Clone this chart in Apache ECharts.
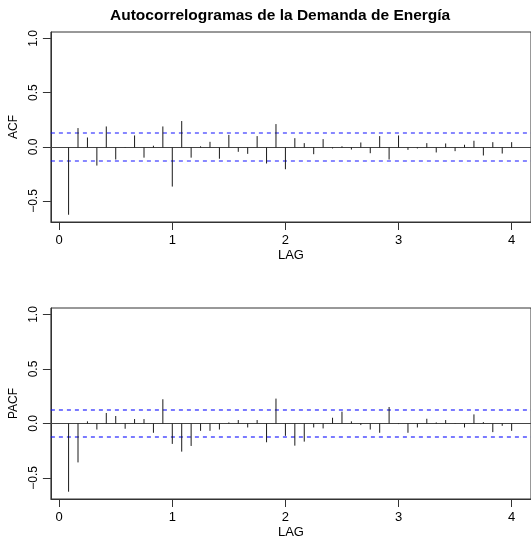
<!DOCTYPE html>
<html>
<head>
<meta charset="utf-8">
<script src="https://cdn.jsdelivr.net/npm/echarts@6/dist/echarts.min.js"></script>
<style>
html,body{margin:0;padding:0;background:#fff;}
#chart{width:531px;height:540px;}
</style>
</head>
<body>
<div id="chart"></div>
<script>
// ---- data ----
const chartTitle = 'Autocorrelogramas de la Demanda de Energía';
const lags = Array.from({length: 48}, (_, i) => (i + 1) / 12);
const acfValues = [-0.627, 0.173, 0.086, -0.173, 0.188, -0.117, -0.010, 0.105, -0.100, 0.010, 0.188, -0.367,
  0.238, -0.100, 0.005, 0.046, -0.110, 0.110, -0.046, -0.065, 0.099, -0.154, 0.210, -0.207,
  0.080, 0.034, -0.068, 0.071, -0.015, 0.005, -0.025, 0.040, -0.059, 0.099, -0.117, 0.105,
  -0.028, -0.015, 0.034, -0.052, 0.031, -0.040, 0.019, 0.056, -0.080, 0.043, -0.062, 0.043];
const pacfValues = [-0.627, -0.358, 0.019, -0.056, 0.096, 0.068, -0.049, 0.040, 0.040, -0.086, 0.222, -0.188,
  -0.259, -0.207, -0.068, -0.068, -0.056, 0.009, 0.031, -0.037, 0.031, -0.173, 0.228, -0.114,
  -0.204, -0.167, -0.037, -0.046, 0.052, 0.108, 0.019, -0.015, -0.056, -0.086, 0.151, -0.006,
  -0.086, -0.037, 0.043, 0.009, 0.031, 0.003, -0.037, 0.083, 0.012, -0.080, -0.022, -0.068];
const confLimit = 0.127;
const refLevels = [0, confLimit, -confLimit];
const xTicks = [0, 1, 2, 3, 4];
const yTicks = [-0.5, 0, 0.5, 1];
const yTickLabels = ['\u22120.5', '0.0', '0.5', '1.0'];
const xRange = [-0.073, 4.171];
const yRange = [-0.694, 1.06];
const yNames = ['ACF', 'PACF'];
const xName = 'LAG';

// ---- chart ----
const FONT = '"Liberation Sans", Arial, Helvetica, sans-serif';
const chart = echarts.init(document.getElementById('chart'), null, {renderer: 'canvas'});

function makeX(idx) {
  return {
    type: 'value', gridIndex: idx, min: xRange[0], max: xRange[1],
    name: xName, nameLocation: 'middle', nameGap: 27,
    nameTextStyle: {fontFamily: FONT, fontSize: 13, color: '#000'},
    axisLine: {show: true, onZero: false, lineStyle: {color: '#333', width: 1}},
    axisTick: {show: true, length: 8, customValues: xTicks, lineStyle: {color: '#333'}},
    axisLabel: {show: true, customValues: xTicks, margin: 12, fontFamily: FONT, fontSize: 13, color: '#000',
      formatter: v => String(Math.round(v))},
    splitLine: {show: false}
  };
}
function makeY(idx) {
  return {
    type: 'value', gridIndex: idx, min: yRange[0], max: yRange[1],
    name: yNames[idx], nameLocation: 'middle', nameGap: 27, nameRotate: 90,
    nameTextStyle: {fontFamily: FONT, fontSize: 12, color: '#000'},
    axisLine: {show: true, onZero: false, lineStyle: {color: '#333', width: 1}},
    axisTick: {show: true, length: 8, customValues: yTicks, lineStyle: {color: '#333'}},
    axisLabel: {show: true, customValues: yTicks, rotate: 90, margin: 11, fontFamily: FONT, fontSize: 12, color: '#000',
      formatter: v => { const i = yTicks.findIndex(t => Math.abs(t - v) < 1e-9); return i >= 0 ? yTickLabels[i] : ''; }},
    splitLine: {show: false}
  };
}
// horizontal reference lines (zero line + confidence bounds), drawn through the axes' scales
function refSeries(idx) {
  return {
    type: 'custom', xAxisIndex: idx, yAxisIndex: idx, silent: true,
    data: refLevels.map(v => [xRange[0], v]),
    renderItem: function (params, api) {
      const lv = api.value(1);
      const a = api.coord([xRange[0], lv]);
      const b = api.coord([xRange[1], lv]);
      const isZero = Math.abs(lv) < 1e-9;
      const y = isZero ? Math.round(a[1]) + 0.5 : Math.round(a[1]);
      return {type: 'line', shape: {x1: a[0], y1: y, x2: b[0], y2: y},
        style: isZero ? {stroke: '#444', lineWidth: 1}
                      : {stroke: '#1010ff', lineWidth: 1.1, lineDash: [4, 4]}};
    },
    z: 2
  };
}
function makeSeries(idx, values) {
  return {
    type: 'custom', xAxisIndex: idx, yAxisIndex: idx,
    data: lags.map((l, i) => [l, values[i]]),
    renderItem: function (params, api) {
      const p0 = api.coord([api.value(0), 0]);
      const p1 = api.coord([api.value(0), api.value(1)]);
      const y0 = Math.round(p0[1]) + 0.5;
      return {type: 'line', shape: {x1: p0[0], y1: y0, x2: p1[0], y2: p1[1]},
        style: {stroke: '#1a1a1a', lineWidth: 1}};
    },
    z: 3
  };
}

const series = [];
[0, 1].forEach(idx => {
  series.push(refSeries(idx));
  series.push(makeSeries(idx, idx === 0 ? acfValues : pacfValues));
});

chart.setOption({
  animation: false,
  backgroundColor: '#fff',
  title: {
    text: chartTitle, left: 105, top: 3,
    textStyle: {fontFamily: FONT, fontSize: 15.5, fontWeight: 'bold', color: '#000'}
  },
  grid: [
    {left: 48, top: 32, width: 486, height: 190, show: true, borderColor: '#333', borderWidth: 1, backgroundColor: 'transparent'},
    {left: 48, top: 308, width: 486, height: 191, show: true, borderColor: '#333', borderWidth: 1, backgroundColor: 'transparent'}
  ],
  xAxis: [makeX(0), makeX(1)],
  yAxis: [makeY(0), makeY(1)],
  series: series
});
</script>
</body>
</html>
